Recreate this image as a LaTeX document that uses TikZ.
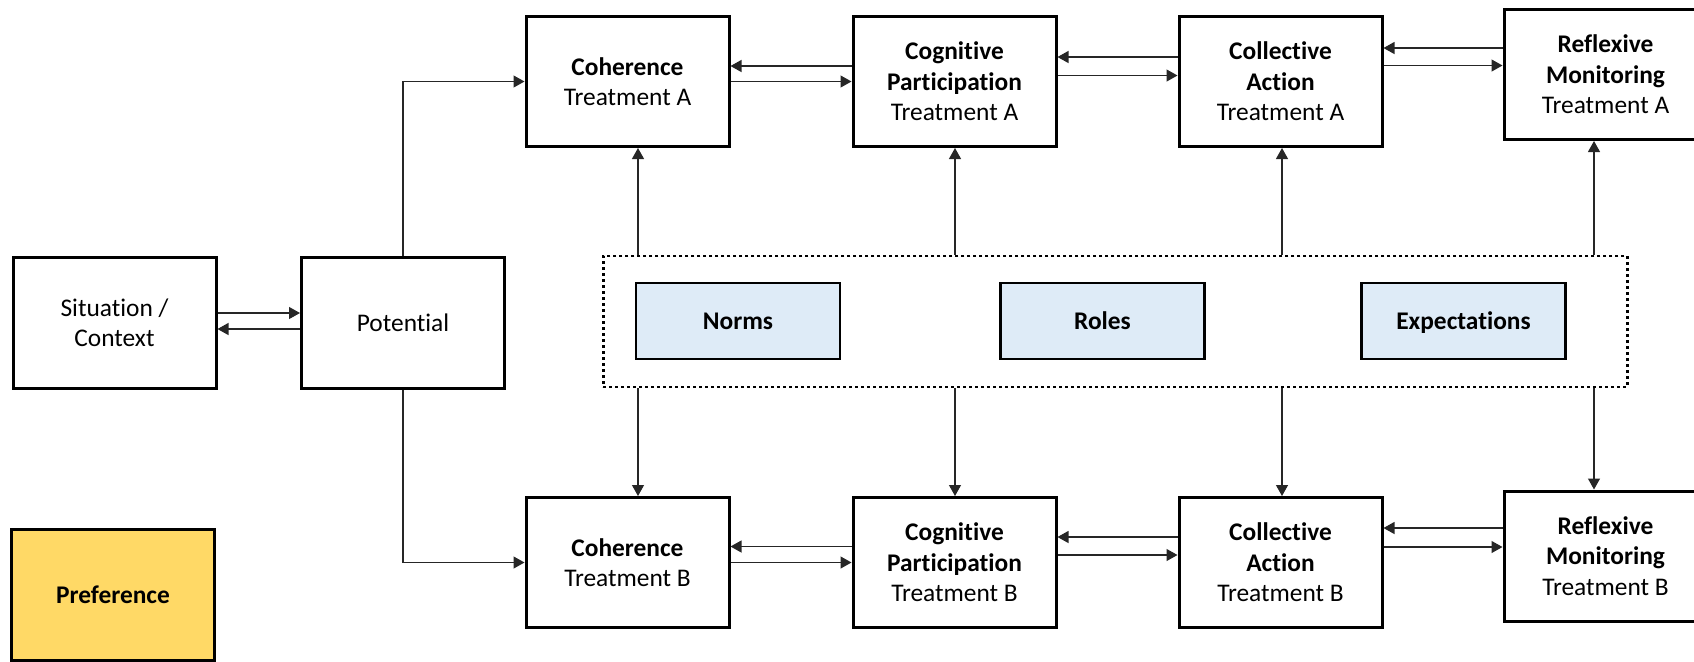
\documentclass[tikz,border=0pt]{standalone}
\usepackage{fontspec}
\setmainfont{Carlito}[Ligatures=NoCommon]
\usetikzlibrary{arrows.meta}

\definecolor{paleblue}{HTML}{DEEBF7}
\definecolor{softgold}{HTML}{FFD966}

\tikzset{
  box/.style={draw=black, line width=1.5pt, fill=white, align=center,
    minimum width=101.5pt, minimum height=65pt, inner sep=2pt,
    font=\fontsize{12.7pt}{15.2pt}\selectfont},
  factor/.style={draw=black, line width=1.3pt, fill=paleblue, align=center,
    minimum width=102pt, minimum height=38pt, inner sep=2pt,
    text height=10.6pt, text depth=2.6pt,
    font=\fontsize{12.7pt}{15.2pt}\selectfont\bfseries},
  prefbox/.style={box, fill=softgold, font=\fontsize{12.7pt}{15.2pt}\selectfont\bfseries},
  group/.style={draw=black, line width=1.3pt, dash pattern=on 1.4pt off 1.6pt,
    minimum width=512pt, minimum height=65.5pt, inner sep=0pt},
  arr/.style={draw=black!85, line width=0.6pt,
    -{Triangle[length=5.5pt,width=6pt]}}
}

\begin{document}
\begin{tikzpicture}[x=0.5pt, y=-0.5pt]
  \clip (0,0) rectangle (1694,661);

  % left column
  \node[box, minimum height=65.5pt] (sit) at (114.5,322.5) {Situation /\\Context};
  \node[box, minimum height=65.5pt] (pot) at (403,322.5) {Potential};
  \node[prefbox, minimum height=65.5pt] (pref) at (113,594.5) {Preference};

  % shared factors
  \node[group] (ctx) at (1115.25,321.5) {};
  \node[factor] (norms) at (738,321) {Norms};
  \node[factor] (roles) at (1102.5,321) {Roles};
  \node[factor] (expect) at (1463.5,321) {Expectations};

  % treatment A row
  \node[box] (cohA) at (627.5,81.5) {\textbf{Coherence}\\Treatment A};
  \node[box] (cogA) at (954.5,81.5) {\textbf{Cognitive}\\\textbf{Participation}\\Treatment A};
  \node[box] (colA) at (1280.5,81.5) {\textbf{Collective}\\\textbf{Action}\\Treatment A};
  \node[box] (refA) at (1605.5,74.5) {\textbf{Reflexive}\\\textbf{Monitoring}\\Treatment A};

  % treatment B row
  \node[box] (cohB) at (627.5,562.5) {\textbf{Coherence}\\Treatment B};
  \node[box] (cogB) at (954.5,562.5) {\textbf{Cognitive}\\\textbf{Participation}\\Treatment B};
  \node[box] (colB) at (1280.5,562.5) {\textbf{Collective}\\\textbf{Action}\\Treatment B};
  \node[box] (refB) at (1605.5,556) {\textbf{Reflexive}\\\textbf{Monitoring}\\Treatment B};

  % situation <-> potential
  \draw[arr] (sit.east |- 0,313) -- (pot.west |- 0,313);
  \draw[arr] (pot.west |- 0,329) -- (sit.east |- 0,329);

  % potential branches to both treatments
  \draw[arr] (pot.north) |- (cohA.west);
  \draw[arr] (pot.south) |- (cohB.west);

  % treatment A chain
  \draw[arr] (cohA.east) -- (cogA.west);
  \draw[arr] (cogA.west |- 0,66) -- (cohA.east |- 0,66);
  \draw[arr] (cogA.east |- 0,75.5) -- (colA.west |- 0,75.5);
  \draw[arr] (colA.west |- 0,57) -- (cogA.east |- 0,57);
  \draw[arr] (colA.east |- 0,65.5) -- (refA.west |- 0,65.5);
  \draw[arr] (refA.west |- 0,48) -- (colA.east |- 0,48);

  % treatment B chain
  \draw[arr] (cohB.east) -- (cogB.west);
  \draw[arr] (cogB.west |- 0,546.5) -- (cohB.east |- 0,546.5);
  \draw[arr] (cogB.east |- 0,555) -- (colB.west |- 0,555);
  \draw[arr] (colB.west |- 0,537) -- (cogB.east |- 0,537);
  \draw[arr] (colB.east |- 0,547) -- (refB.west |- 0,547);
  \draw[arr] (refB.west |- 0,528) -- (colB.east |- 0,528);

  % shared factors feed every stage
  \draw[arr] (ctx.north -| 638,0) -- (cohA.south -| 638,0);
  \draw[arr] (ctx.north -| 955,0) -- (cogA.south -| 955,0);
  \draw[arr] (ctx.north -| 1282,0) -- (colA.south -| 1282,0);
  \draw[arr] (ctx.north -| 1594,0) -- (refA.south -| 1594,0);
  \draw[arr] (ctx.south -| 638,0) -- (cohB.north -| 638,0);
  \draw[arr] (ctx.south -| 955,0) -- (cogB.north -| 955,0);
  \draw[arr] (ctx.south -| 1282,0) -- (colB.north -| 1282,0);
  \draw[arr] (ctx.south -| 1594,0) -- (refB.north -| 1594,0);
\end{tikzpicture}
\end{document}
